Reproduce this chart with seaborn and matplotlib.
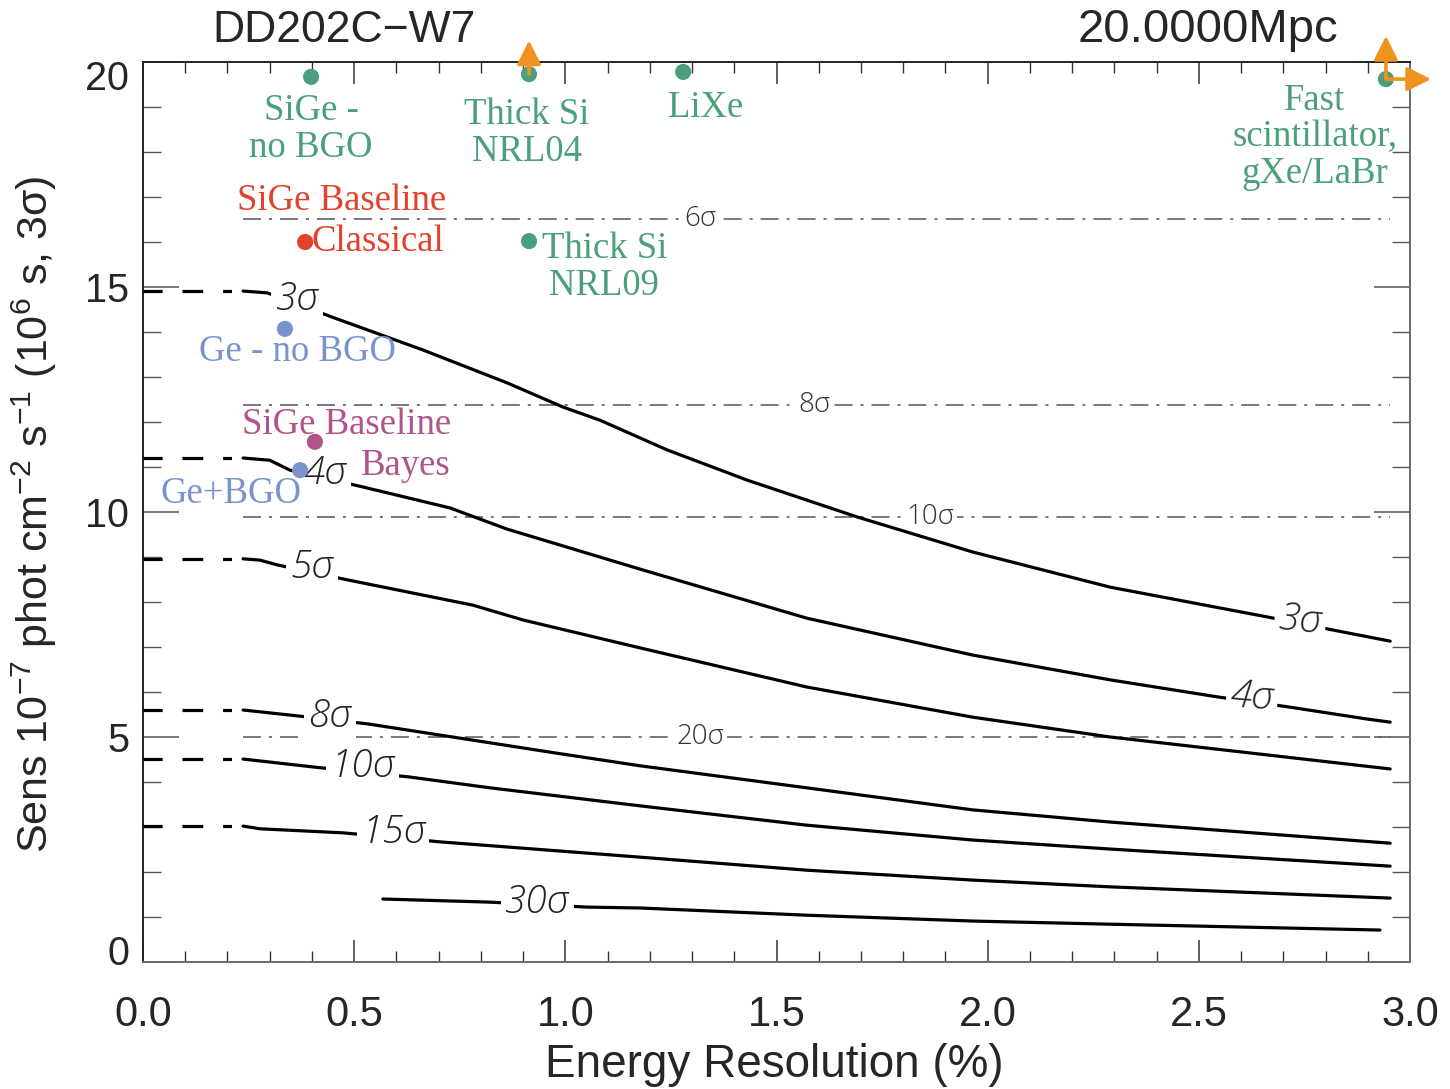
import numpy as np
import pandas as pd
import matplotlib
matplotlib.use("Agg")
import matplotlib.pyplot as plt
import matplotlib.transforms as mtransforms
from matplotlib.ticker import MultipleLocator, FormatStrFormatter
import seaborn as sns

# ---------------------------------------------------------------- data
# Sensitivity contours (x: energy resolution in %, y: sensitivity in 1e-7 ph/cm2/s)
sigma3_x = [0.237, 0.294, 0.448, 0.663, 0.862, 0.995, 1.082, 1.241, 1.430, 1.691, 1.965, 2.290, 2.661, 2.827, 2.953]
sigma3_y = [14.91, 14.87, 14.33, 13.60, 12.87, 12.33, 12.04, 11.38, 10.71, 9.89, 9.11, 8.33, 7.67, 7.36, 7.13]

sigma4_x = [0.237, 0.300, 0.348, 0.519, 0.727, 0.862, 1.177, 1.572, 1.965, 2.290, 2.545, 2.711, 2.898, 2.953]
sigma4_y = [11.20, 11.15, 10.93, 10.56, 10.09, 9.62, 8.73, 7.64, 6.82, 6.27, 5.89, 5.67, 5.40, 5.33]

sigma5_x = [0.237, 0.277, 0.320, 0.485, 0.781, 0.900, 1.177, 1.572, 1.965, 2.290, 2.953]
sigma5_y = [8.96, 8.93, 8.82, 8.49, 7.93, 7.60, 6.98, 6.11, 5.44, 5.00, 4.29]

sigma8_x = [0.237, 0.365, 0.533, 0.781, 0.980, 1.177, 1.572, 1.965, 2.290, 2.953]
sigma8_y = [5.60, 5.47, 5.29, 4.93, 4.64, 4.36, 3.87, 3.38, 3.11, 2.64]

sigma10_x = [0.237, 0.407, 0.632, 0.822, 1.177, 1.572, 1.965, 2.290, 2.953]
sigma10_y = [4.51, 4.33, 4.11, 3.87, 3.47, 3.04, 2.71, 2.51, 2.13]

sigma15_x = [0.237, 0.277, 0.474, 0.703, 1.177, 1.572, 1.965, 2.290, 2.953]
sigma15_y = [3.02, 2.96, 2.87, 2.67, 2.33, 2.04, 1.82, 1.67, 1.42]

sigma30_x = [0.568, 0.822, 1.051, 1.177, 1.572, 1.965, 2.290, 2.929]
sigma30_y = [1.40, 1.33, 1.22, 1.20, 1.04, 0.91, 0.84, 0.71]

# Horizontal significance levels for a 3-sigma reference flux
level_values = [16.51, 12.38, 9.89, 5.00]
level_labels = ["6σ", "8σ", "10σ", "20σ"]
grid_range = [0.237, 2.953]

# Detector concepts
det_names = ["SiGe - no BGO", "Thick Si NRL04", "LiXe", "Fast scintillator",
             "SiGe Baseline Classical", "Thick Si NRL09", "Ge - no BGO",
             "SiGe Baseline Bayes", "Ge+BGO"]
det_res = [0.398, 0.914, 1.279, 2.943, 0.384, 0.914, 0.336, 0.407, 0.372]
det_sens = [19.67, 19.73, 19.78, 19.62, 16.00, 16.02, 14.07, 11.56, 10.93]
det_group = ["alt", "alt", "alt", "alt", "classical", "alt", "ge", "bayes", "ge"]

x_ticks = [0.0, 0.5, 1.0, 1.5, 2.0, 2.5, 3.0]
y_ticks = [0, 5, 10, 15, 20]

# ---------------------------------------------------------------- style
GREEN = "#4c9f7c"
RED = "#e3412b"
BLUE = "#7b93cc"
PURPLE = "#b0548b"
ORANGE = "#f0921e"
group_colors = {"alt": GREEN, "classical": RED, "ge": BLUE, "bayes": PURPLE}

sns.set_style("ticks")
plt.rcParams["font.family"] = ["Liberation Sans", "DejaVu Sans"]
plt.rcParams["mathtext.fontset"] = "custom"
plt.rcParams["mathtext.rm"] = "Liberation Sans"
plt.rcParams["mathtext.it"] = "Liberation Sans:italic"
plt.rcParams["mathtext.default"] = "regular"

SERIF = ["Liberation Serif", "DejaVu Serif"]
THIN = ["Open Sans", "DejaVu Sans"]

fig = plt.figure(figsize=(14.5, 10.89), dpi=100)
ax = fig.add_axes([143 / 1450, 127 / 1089, 1267 / 1450, 900 / 1089])

# ---------------------------------------------------------------- levels
for val, lab, lx in zip(level_values, level_labels, [1.319, 1.591, 1.864, 1.319]):
    ax.hlines(val, grid_range[0], grid_range[1], colors="#555555", lw=1.1,
              linestyles=[(0, (11.8, 5.2, 2.0, 5.2))], zorder=2)
    ax.text(lx, val, lab, ha="center", va="center", fontsize=20, family=THIN,
            fontweight="light", color="#333333", zorder=2.5,
            bbox=dict(facecolor="white", edgecolor="none", pad=2))

# ---------------------------------------------------------------- contours
contours = [
    (sigma3_x, sigma3_y, True, [("3σ", 0.365, 14.71, 0), ("3σ", 2.740, 7.58, -6)]),
    (sigma4_x, sigma4_y, True, [("4σ", 0.431, 10.84, 0), ("4σ", 2.626, 5.87, -5)]),
    (sigma5_x, sigma5_y, True, [("5σ", 0.400, 8.76, 0)]),
    (sigma8_x, sigma8_y, True, [("8σ", 0.443, 5.44, 0)]),
    (sigma10_x, sigma10_y, True, [("10σ", 0.519, 4.33, 0)]),
    (sigma15_x, sigma15_y, True, [("15σ", 0.592, 2.87, 0)]),
    (sigma30_x, sigma30_y, False, [("30σ", 0.933, 1.31, 0)]),
]

for cx, cy, extend, labels in contours:
    sns.lineplot(x=cx, y=cy, ax=ax, color="black", lw=2.3, sort=False,
                 estimator=None, zorder=3)
    if extend:
        ax.plot([0.0, cx[0]], [cy[0], cy[0]], color="black", lw=2.3,
                ls=(0, (6.0, 6.2, 6.5, 6.2, 2.8, 6.9)), solid_capstyle="butt",
                zorder=3, clip_on=False)
    for txt, lx, ly, rot in labels:
        ax.text(lx, ly, txt, ha="center", va="center", fontsize=28,
                family=THIN, fontweight="light", fontstyle="italic",
                rotation=rot, color="#222222", zorder=4,
                bbox=dict(facecolor="white", edgecolor="none", pad=3))

# ---------------------------------------------------------------- detectors
det = pd.DataFrame({"res": det_res, "sens": det_sens, "group": det_group})
sns.scatterplot(data=det, x="res", y="sens", hue="group", palette=group_colors,
                s=135, edgecolor="none", legend=False, ax=ax, zorder=6,
                clip_on=False)

annots = [
    ("SiGe -\nno BGO", 0.398, 18.51, GREEN, "center"),
    ("Thick Si\nNRL04", 0.909, 18.42, GREEN, "center"),
    ("LiXe", 1.333, 18.98, GREEN, "center"),
    ("Fast\nscintillator,\ngXe/LaBr", 2.775, 18.33, GREEN, "center"),
    ("SiGe Baseline", 0.469, 16.91, RED, "center"),
    ("Classical", 0.400, 16.00, RED, "left"),
    ("Thick Si\nNRL09", 1.092, 15.44, GREEN, "center"),
    ("Ge - no BGO", 0.367, 13.56, BLUE, "center"),
    ("SiGe Baseline", 0.481, 11.93, PURPLE, "center"),
    ("Bayes", 0.623, 11.02, PURPLE, "center"),
    ("Ge+BGO", 0.208, 10.40, BLUE, "center"),
]
for txt, tx, ty, col, ha in annots:
    ax.text(tx, ty, txt, ha=ha, va="center", fontsize=26.5, family=SERIF,
            color=col, linespacing=1.08, zorder=7)

# lower-limit arrows for off-scale detectors
arrow_kw = dict(arrowstyle="-|>,head_length=0.6,head_width=0.3", color=ORANGE,
                lw=2.6, mutation_scale=24, shrinkA=0, shrinkB=0)
ax.annotate("", xy=(det_res[1], 20.48), xytext=(det_res[1], det_sens[1]),
            arrowprops=arrow_kw, annotation_clip=False, zorder=8)
ax.annotate("", xy=(det_res[3], 20.58), xytext=(det_res[3], det_sens[3]),
            arrowprops=arrow_kw, annotation_clip=False, zorder=8)
ax.annotate("", xy=(3.05, det_sens[3]), xytext=(det_res[3], det_sens[3]),
            arrowprops=arrow_kw, annotation_clip=False, zorder=8)

# ---------------------------------------------------------------- axes
ax.set_xlim(0, 3.0)
ax.set_ylim(0, 20)
ax.set_xticks(x_ticks)
ax.set_yticks(y_ticks)
ax.xaxis.set_minor_locator(MultipleLocator(0.1))
ax.yaxis.set_minor_locator(MultipleLocator(1))
ax.xaxis.set_major_formatter(FormatStrFormatter("%.1f"))
ax.yaxis.set_major_formatter(FormatStrFormatter("%d"))

ax.tick_params(axis="x", which="both", direction="in", top=True, bottom=True,
               color="#333333", labelsize=30, pad=24)
ax.tick_params(axis="x", which="major", length=16, width=1.1)
ax.tick_params(axis="x", which="minor", length=8, width=1.0)
ax.tick_params(axis="y", which="both", direction="in", left=True, right=True,
               color="#555555", labelsize=28.5, pad=10)
ax.tick_params(axis="y", which="major", length=26, width=1.1)
ax.tick_params(axis="y", which="minor", length=13, width=1.0)

for side, col in [("left", "#222222"), ("top", "#222222"),
                  ("bottom", "#6a6a6a"), ("right", "#6a6a6a")]:
    ax.spines[side].set_visible(True)
    ax.spines[side].set_color(col)
    ax.spines[side].set_linewidth(1.4)

ax.set_xlabel("Energy Resolution (%)", fontsize=33)
ax.xaxis.set_label_coords(0.4985, -0.09)
ax.xaxis.label.set_va("top")
ax.set_ylabel(r"Sens 10$^{-7}$ phot cm$^{-2}$ s$^{-1}$ (10$^{6}$ s, 3σ)", fontsize=31)
ax.yaxis.set_label_coords(-0.066, 0.498)

fig.text(212 / 1450, 1 - 30 / 1089, "DD202C−W7", ha="left", va="center", fontsize=32)
fig.text(1338 / 1450, 1 - 30 / 1089, "20.0000Mpc", ha="right", va="center", fontsize=34)

# nudge the end labels of the y axis inward
fig.canvas.draw()
for tick in ax.yaxis.get_major_ticks():
    loc = tick.get_loc()
    if np.isclose(loc, y_ticks[0]):
        shift = 12
    elif np.isclose(loc, y_ticks[-1]):
        shift = -13
    else:
        continue
    lab = tick.label1
    lab.set_transform(lab.get_transform() +
                      mtransforms.ScaledTranslation(0, shift / 100, fig.dpi_scale_trans))

fig.savefig("out.png", dpi=100, facecolor="white")
